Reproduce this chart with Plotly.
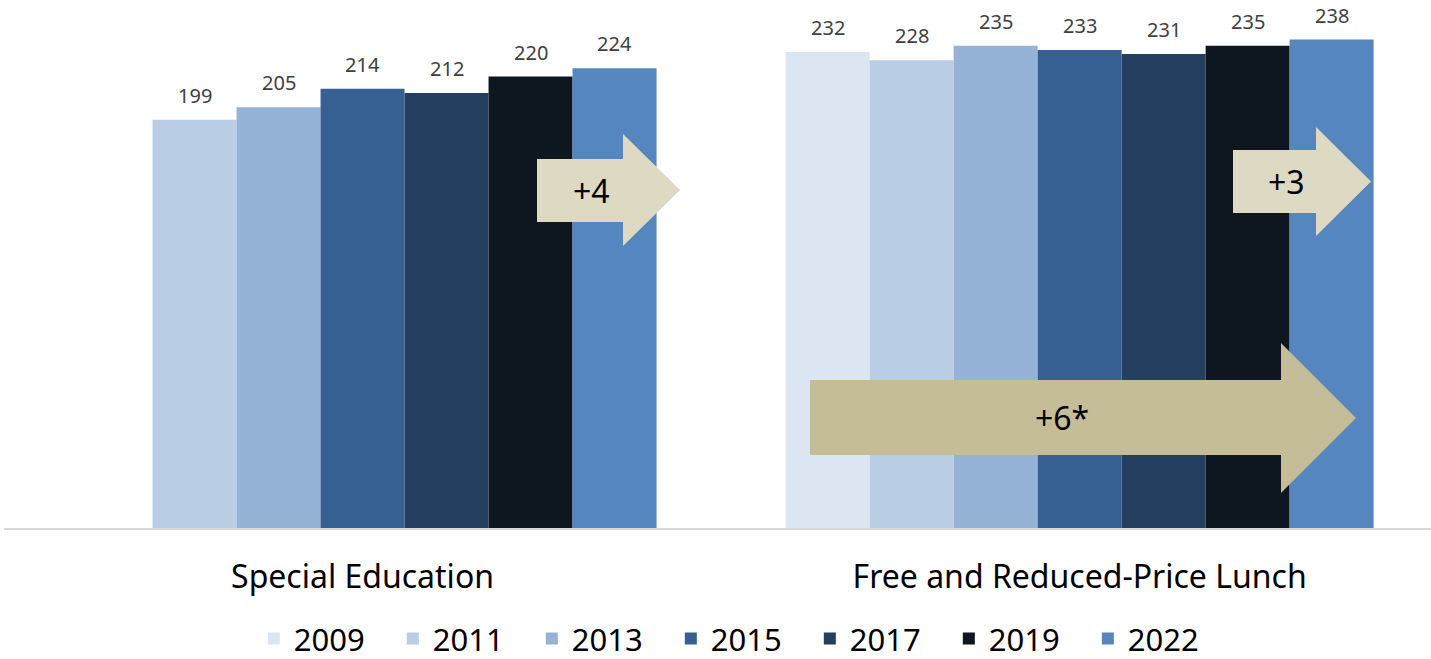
import plotly.graph_objects as go

# ---- data ----
categories = ["Special Education", "Free and Reduced-Price Lunch"]
years = ["2009", "2011", "2013", "2015", "2017", "2019", "2022"]
special_ed = [None, 199, 205, 214, 212, 220, 224]
frpl = [232, 228, 235, 233, 231, 235, 238]
arrow_labels = ["+4", "+3", "+6*"]

# ---- style ----
colors = ["#DCE6F2", "#B9CDE5", "#95B3D7", "#366092", "#243F60", "#0E1620", "#5686BF"]
FONT = "Noto Sans"
W, H = 1431, 659
ML, MR, MT, MB = 4, 0, 15, 131
PW, PH = W - ML - MR, H - MT - MB
BARGAP = 0.18

fig = go.Figure()
for j, yr in enumerate(years):
    fig.add_trace(go.Bar(
        name=yr, x=categories, y=[special_ed[j], frpl[j]],
        marker=dict(color=colors[j], line=dict(width=0)),
        hoverinfo="x+y+name",
    ))

# data labels above bars (positioned via data axes)
n = len(years)
bw = (1 - BARGAP) / n
annotations = []
for ci, series in enumerate([special_ed, frpl]):
    for j, v in enumerate(series):
        if v is None:
            continue
        annotations.append(dict(
            x=ci - (1 - BARGAP) / 2 + (j + 0.5) * bw, y=v, xref="x", yref="y",
            text=str(v), showarrow=False, yanchor="bottom", yshift=9,
            font=dict(family=FONT, size=20, color="#404040"),
        ))

# arrows (overlay shapes, in paper coordinates from pixel geometry)
def px2paper(px, py):
    return (px - ML) / PW, (MT + PH - py) / PH

def arrow_path(x0, xh, xt, bt, bb, ht, hb):
    ty = (ht + hb) / 2
    pts = [(x0, bt), (xh, bt), (xh, ht), (xt, ty), (xh, hb), (xh, bb), (x0, bb)]
    s = ""
    for k, (a, b) in enumerate(pts):
        X, Y = px2paper(a, b)
        s += ("M" if k == 0 else "L") + f"{X:.5f},{Y:.5f} "
    return s + "Z"

arrows = [
    # x0, head base, tip, body top, body bottom, head top, head bottom, color, label x
    (537, 623, 680, 159, 222, 134, 246, "#DDD9C3", 591),
    (1233, 1316, 1371, 150, 213, 127, 236, "#DDD9C3", 1286),
    (810, 1281, 1356, 380, 455, 343, 493, "#C4BD97", 1062),
]
shapes = []
for k, (x0, xh, xt, bt, bb, ht, hb, col, lx) in enumerate(arrows):
    shapes.append(dict(type="path", xref="paper", yref="paper",
                       path=arrow_path(x0, xh, xt, bt, bb, ht, hb),
                       fillcolor=col, line=dict(width=0), layer="above"))
    X, Y = px2paper(lx, (bt + bb) / 2)
    annotations.append(dict(x=X, y=Y, xref="paper", yref="paper",
                            xanchor="center", yanchor="middle",
                            text=arrow_labels[k], showarrow=False,
                            font=dict(family=FONT, size=32, color="#000000")))

fig.update_layout(
    width=W, height=H,
    margin=dict(l=ML, r=MR, t=MT, b=MB, autoexpand=False),
    paper_bgcolor="white", plot_bgcolor="white",
    barmode="group", bargap=BARGAP, bargroupgap=0,
    font=dict(family=FONT, color="#000000"),
    xaxis=dict(type="category", range=[-0.5, 1.49], showline=True,
               linecolor="#D9D9D9", linewidth=2, ticks="", showgrid=False,
               automargin=False,
               tickfont=dict(family=FONT, size=32, color="#000000"),
               ticklabelstandoff=20),
    yaxis=dict(visible=False, range=[0, 250], showgrid=False, zeroline=False,
               automargin=False),
    legend=dict(orientation="h", x=0.516, xanchor="center", y=-0.216, yanchor="middle",
                font=dict(family=FONT, size=31, color="#000000"),
                entrywidth=94, entrywidthmode="pixels", traceorder="normal"),
    shapes=shapes,
    annotations=annotations,
)

fig.write_html(
    "out.html",
    config={"displayModeBar": False},
    post_script="document.body.style.margin='0';document.body.style.padding='0';"
                "document.body.style.overflow='hidden';",
)
